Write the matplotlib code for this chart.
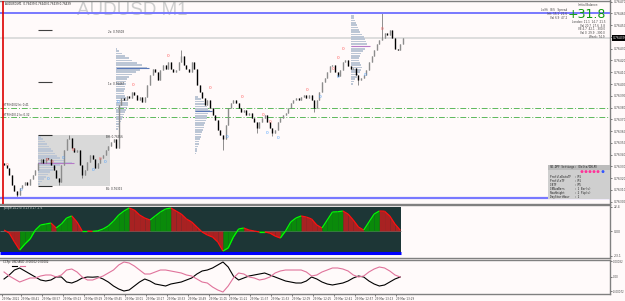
import numpy as np
import matplotlib
matplotlib.use("Agg")
import matplotlib.pyplot as plt
from matplotlib.collections import LineCollection
from matplotlib.patches import Rectangle
import matplotlib.transforms as mtrans

plt.rcParams['font.family'] = ['DejaVu Sans']

# ------------------------------------------------------------------ data
symbol_title = "AUDUSD,M1  0.76439 0.76440 0.76439 0.76439"
watermark = "AUDUSD M1"

bar_start_min = 508          # first bar 08:28 (minutes after midnight)
bar_minutes = 2
first_open = 0.76333
closes = [0.76331, 0.76329, 0.76323, 0.76314, 0.76309, 0.76306, 0.76312, 0.76314, 0.76317, 0.76314,
          0.76319, 0.76323, 0.76327, 0.76333, 0.76336, 0.76333, 0.76337, 0.76336, 0.76331, 0.76327,
          0.76320, 0.76317, 0.76331, 0.76344, 0.76353, 0.76354, 0.76346, 0.76342, 0.76344, 0.76331,
          0.76323, 0.76327, 0.76334, 0.76340, 0.76336, 0.76329, 0.76333, 0.76337, 0.76340, 0.76344,
          0.76347, 0.76351, 0.76353, 0.76346, 0.76382, 0.76388, 0.76386, 0.76390, 0.76388, 0.76393,
          0.76391, 0.76386, 0.76389, 0.76385, 0.76389, 0.76399, 0.76408, 0.76413, 0.76410, 0.76403,
          0.76412, 0.76416, 0.76413, 0.76419, 0.76413, 0.76410, 0.76412, 0.76419, 0.76424, 0.76416,
          0.76413, 0.76410, 0.76419, 0.76413, 0.76399, 0.76393, 0.76388, 0.76382, 0.76386, 0.76380,
          0.76374, 0.76369, 0.76361, 0.76357, 0.76353, 0.76365, 0.76380, 0.76384, 0.76386, 0.76384,
          0.76380, 0.76376, 0.76378, 0.76374, 0.76375, 0.76371, 0.76368, 0.76363, 0.76368, 0.76371,
          0.76374, 0.76368, 0.76363, 0.76358, 0.76361, 0.76368, 0.76371, 0.76374, 0.76375, 0.76380,
          0.76384, 0.76386, 0.76388, 0.76386, 0.76389, 0.76391, 0.76388, 0.76391, 0.76386, 0.76380,
          0.76386, 0.76393, 0.76402, 0.76405, 0.76410, 0.76415, 0.76416, 0.76410, 0.76407, 0.76412,
          0.76419, 0.76420, 0.76415, 0.76413, 0.76414, 0.76408, 0.76403, 0.76405, 0.76408, 0.76412,
          0.76419, 0.76424, 0.76429, 0.76434, 0.76437, 0.76439, 0.76443, 0.76442, 0.76446, 0.76439,
          0.76430, 0.76429, 0.76434, 0.76439]
spike_highs = {25: 0.76357, 68: 0.76429, 145: 0.76460}
spike_lows = {5: 0.76303, 21: 0.76314, 30: 0.76320, 84: 0.76344, 97: 0.76358,
              103: 0.76356, 119: 0.76376, 136: 0.76399}

day_high = 0.76460
day_low = 0.76303
current_price = 0.76439
day_separator_min = 507.2
htf_levels = [0.76380, 0.76372]
htf_labels = ["HTF(H4)02 hi: 0.41", "HTF(H4)0.2 lo: 0.32"]

ib_start, ib_end = 534.0, 589.3
ib_low, ib_high = 0.76313, 0.76357
ib_ext_levels = [0.76446, 0.76402]
ib_ext_end = 544.8

row_step = 0.00002
prof_a_start, prof_a_top = 534.0, 0.76355
prof_a_vol = [3, 5, 7, 9, 11, 13, 15, 17, 19, 22, 26, 34, 22, 18, 15, 12, 10, 8, 6, 4, 2]
prof_b_start, prof_b_top = 593.9, 0.76430
prof_b_vol = [1, 3, 6, 9, 13, 16, 21, 26, 31, 24, 20, 16, 13, 11, 10, 10, 9, 9, 8, 8,
              9, 10, 11, 12, 12, 11, 10, 9, 8, 7, 6, 5, 4, 3, 2]
prof_c_start, prof_c_top = 654.5, 0.76389
prof_c_vol = [3, 6, 9, 11, 12, 13, 15, 13, 12, 12, 11, 10, 9, 9, 8, 7, 6, 6, 5, 4, 4, 3, 2, 2, 1]
prof_d_start, prof_d_top = 774.3, 0.76460
prof_d_vol = [2, 3, 3, 4, 5, 6, 7, 8, 9, 11, 13, 14, 15, 16, 17, 14, 12, 10, 9, 8,
              8, 9, 10, 11, 10, 9, 7, 6, 4, 3, 2]

red_mark_t = [510.3, 541.0, 544.8, 560.9, 581.6, 607.0, 633.8, 666.0, 690.6, 706.7,
              712.1, 740.5, 760.4, 764.3, 768.1, 798.1]
red_mark_p = [0.76331, 0.76335, 0.76334, 0.76344, 0.76336, 0.76399, 0.76424, 0.76397, 0.76389, 0.76374,
              0.76368, 0.76395, 0.76413, 0.76422, 0.76430, 0.76447]
blue_mark_t = [521.0, 541.7, 553.2, 576.3, 585.5, 595.4, 679.1, 709.8, 718.2, 750.5, 764.3, 785.0]
blue_mark_p = [0.76310, 0.76319, 0.76337, 0.76327, 0.76334, 0.76385, 0.76355, 0.76358, 0.76354,
               0.76389, 0.76406, 0.76408]

osc_start, osc_step = 508, 4
osc = [0.9, -1.9, -10.2, -17.7, -12.1, -7.4, 0.9, 5.6, 6.5, 7.4,
       2.8, 6.5, 12.1, 14.0, 8.4, 0.0, 0.0, -0.3, 0.2, 1.9,
       4.7, 9.3, 14.9, 18.6, 21.4, 19.5, 14.9, 12.1, 10.2, 14.0,
       17.7, 20.5, 21.4, 18.6, 15.8, 11.2, 8.4, 3.7, -0.9, -3.7,
       -5.6, -10.2, -18.6, -15.8, -5.6, 1.9, 2.8, 0.9, 0.0, -0.9,
       -0.9, -1.9, -4.7, -6.5, 0.0, 8.4, 12.1, 14.0, 13.0, 11.2,
       5.6, 2.8, 10.2, 17.7, 17.9, 18.6, 15.8, 10.2, 3.7, 0.9,
       8.4, 15.8, 18.6, 18.4, 14.0, 6.5, 0.9]
osc_band = (-19.6, 22.3)
osc_floor = -20.5

# currency strength (units of 1e-5)
ccf_usd = [-10.3, 10.3, 35.9, 46.2, 30.8, 15.4, 0.0, -15.4, -20.5, -15.4,
           0.0, 0.0, -25.7, -30.8, -20.5, -5.1, 0.0, -1.0, 1.0, -10.3,
           -25.7, -46.2, -61.6, -71.8, -66.7, -46.2, -25.7, -10.3, -20.5, -35.9,
           -41.0, -46.2, -35.9, -30.8, -25.7, -15.4, -5.1, 15.4, 30.8, 35.9,
           46.2, 61.6, 77.0, 51.3, 5.1, -15.4, -5.1, 5.1, 10.3, 15.4,
           20.5, 10.3, 0.0, -10.3, -20.5, -25.7, -30.8, -30.8, -20.5, 0.0,
           -10.3, -25.7, -35.9, -41.0, -35.9, -30.8, -20.5, -5.1, 5.1, 0.0,
           -20.5, -35.9, -46.2, -41.0, -25.7, -10.3, 0.0]
ccf_aud = [25.7, 5.1, -10.3, -25.7, -15.4, -5.1, -5.1, 5.1, 10.3, 10.3,
           0.0, 10.3, 35.9, 41.0, 25.7, 0.0, -15.4, -15.4, -5.1, 5.1,
           20.5, 35.9, 61.6, 77.0, 71.8, 56.4, 35.9, 15.4, 15.4, 25.7,
           35.9, 35.9, 30.8, 25.7, 20.5, 10.3, 5.1, -10.3, -25.7, -30.8,
           -51.3, -66.7, -77.0, -46.2, -5.1, 20.5, 15.4, 0.0, -5.1, -15.4,
           -10.3, 0.0, 20.5, 30.8, 35.9, 35.9, 35.9, 35.9, 25.7, 5.1,
           10.3, 25.7, 35.9, 46.2, 46.2, 41.0, 30.8, 10.3, 0.0, 5.1,
           25.7, 41.0, 51.3, 46.2, 30.8, 10.3, 0.0]

price_ticks = [0.76300, 0.76310, 0.76320, 0.76330, 0.76340, 0.76350, 0.76360, 0.76370, 0.76380,
               0.76390, 0.76400, 0.76410, 0.76420, 0.76430, 0.76440, 0.76450, 0.76460, 0.76470]
osc_ticks = [22.4, 0.0, -23.1]
osc_tick_labels = ["22.4", "0.00", "-23.1"]
ccf_ticks = [82, 0, -72]
ccf_tick_labels = ["0.00082", "0.00", "-0.00072"]
time_labels = ["08:41", "08:57", "09:13", "09:29", "09:45", "10:01", "10:17", "10:33", "10:49", "11:05",
               "11:21", "11:37", "11:53", "12:09", "12:25", "12:41", "12:57", "13:13", "13:29"]
date_label = "29 Mar 2021"
date_label_min = 506.4

info_lines = ["Initial Balance:", "Lo/Hi   B/S   Spread", "Init: 15.1  21.6", "Val 6.9  47.2",
              "London: 11.1  14.7  21.5", "Val 20.7  27.6  3.8", "VE 4.7  42.1  -300.0",
              "Val 0  29.9  -300.0", "Week: 74.9"]
info_y_px = [5, 9.5, 14, 18, 22, 25.5, 29, 32.5, 37]
info_x_px = [598, 567, 567, 567, 605, 605, 605, 605, 605]
info_big = "+31.8"
settings_title = "SD-DPF Settings: (Delta/DHLM)"
settings_lines = ["ProfileDataTF  : M1", "ProfileTF      : M1", "IBTF           : M5",
                  "IBNumBars      : 1 Bar(s)", "RowHeight      : 2 Pip(s)", "DayStartHour   : 1"]
osc_title = "JSlope(14,2,0) 0.13 0.17 -1.6"
ccf_title = "CCFp: USD AUD -0.00002 0.00002"

# ------------------------------------------------------------------ figure
BG = '#fffafa'
W, H = 625.0, 301.0
fig = plt.figure(figsize=(6.25, 3.01), dpi=100, facecolor=BG)


def rect(x0, y0, x1, y1):
    return [x0 / W, 1 - y1 / H, (x1 - x0) / W, (y1 - y0) / H]


ax = fig.add_axes(rect(0, 0.5, 610, 204), facecolor=BG)
ax1 = fig.add_axes(rect(0, 205, 610, 258), facecolor=BG, sharex=ax)
ax2 = fig.add_axes(rect(0, 260, 610, 294), facecolor=BG, sharex=ax)
XMIN, XMAX = 504.9, 973.0
ax.set_xlim(XMIN, XMAX)
ax.set_ylim(0.76298, 0.76471)
ax1.set_ylim(-25.1, 24.2)
ax2.set_ylim(-87.2, 87.2)

for a in (ax, ax1, ax2):
    for s in a.spines.values():
        s.set_color('#808080')
        s.set_linewidth(1.0)
    a.spines['left'].set_visible(False)
    a.yaxis.tick_right()
    a.tick_params(axis='y', labelsize=2.2, length=1.5, width=0.5, pad=1.0,
                  colors='#444444')
ax2.tick_params(axis='y', labelsize=1.9, pad=0.6)
ax.tick_params(axis='x', bottom=False, labelbottom=False)
ax1.tick_params(axis='x', bottom=False, labelbottom=False)

# ---------------- main price panel
ax.set_yticks(price_ticks)
ax.set_yticklabels([f"{p:.5f}" for p in price_ticks])

n = len(closes)
times = bar_start_min + bar_minutes * np.arange(n)
c = np.array(closes)
o = np.array([first_open] + closes[:-1])
hi = np.maximum(o, c)
lo = np.minimum(o, c)
for k, v in spike_highs.items():
    hi[k] = v
for k, v in spike_lows.items():
    lo[k] = v

# watermark & title
ax.text(132.5 / 610, 1 - 10.5 / 204, watermark, transform=ax.transAxes, ha='center', va='center',
        fontsize=13.5, color='#cdcdcd', family='Liberation Sans', zorder=0.2)
ax.text(5 / 610, 1 - 3.5 / 204, symbol_title, transform=ax.transAxes, ha='left', va='center',
        fontsize=2.0, color='#202020')

# horizontal levels
ax.axhline(current_price, color='#dadada', lw=1.3, zorder=0.5)
ax.axhline(day_high, color='#7878ff', lw=1.4, zorder=3)
ax.axhline(day_low, color='#7878ff', lw=1.6, zorder=3)
for lvl, lab in zip(htf_levels, htf_labels):
    ax.axhline(lvl, color='#5cb85c', lw=0.7, ls=(0, (6, 2, 1, 2)), zorder=0.6)
    ax.text(XMIN + 2.0, lvl + 0.0000035, lab, fontsize=2.0, color='#333333', va='bottom', ha='left')
ax.axvline(day_separator_min, color='#dd0000', lw=1.2, zorder=3)

# initial balance box
ax.add_patch(Rectangle((ib_start, ib_low), ib_end - ib_start, ib_high - ib_low,
                       facecolor='#d9d9d9', edgecolor='none', zorder=0.8))
ax.hlines([ib_high, ib_low], ib_start, ib_ext_end, color='#303030', lw=0.8, zorder=1)
ax.hlines(ib_ext_levels, ib_start, ib_ext_end, color='#404040', lw=0.8, zorder=1)
ax.text(108 / 610, 1 - 33 / 204, "2x: 0.76508", transform=ax.transAxes, fontsize=2.0, color='#333333')
ax.text(108 / 610, 1 - 85 / 204, "1x: 0.76467", transform=ax.transAxes, fontsize=2.0, color='#333333')
ax.text(106 / 610, 1 - 138 / 204, "BH: 0.76356", transform=ax.transAxes, fontsize=2.0, color='#333333')
ax.text(106 / 610, 1 - 190 / 204, "BL: 0.76315", transform=ax.transAxes, fontsize=2.0, color='#333333')

# volume profiles
vol_scale = 0.767
PROF = '#bcc6d5'
for start, top, vol, poc_col in [(prof_a_start, prof_a_top, prof_a_vol, '#b77ac8'),
                                  (prof_b_start, prof_b_top, prof_b_vol, '#5a78b8'),
                                  (prof_c_start, prof_c_top, prof_c_vol, '#5a78b8'),
                                  (prof_d_start, prof_d_top, prof_d_vol, '#b77ac8')]:
    v = np.array(vol, dtype=float)
    levels = top - row_step * np.arange(len(v))
    ax.barh(levels, v * vol_scale, left=start, height=row_step * 0.7, color=PROF, lw=0, zorder=1.2)
    k = int(np.argmax(v))
    ax.hlines(levels[k], start, start + v[k] * vol_scale + 1.5, color=poc_col, lw=0.8, zorder=1.3)

# candles
ax.vlines(times, lo, hi, color='#3c3c3c', lw=0.4, zorder=2)
up = c >= o
ax.vlines(times[up], o[up], c[up], color='#8c8c8c', lw=1.0, zorder=2.1)
ax.vlines(times[~up], o[~up], c[~up], color='#000000', lw=1.0, zorder=2.2)

# swing markers
for t, p in zip(red_mark_t, red_mark_p):
    ax.text(t, p, "0", color='#ff5a5a', fontsize=3.2, ha='center', va='center', zorder=4)
for t, p in zip(blue_mark_t, blue_mark_p):
    ax.text(t, p, "0", color='#4aa0ff', fontsize=3.2, ha='center', va='center', zorder=4)

# current price label
btr = mtrans.blended_transform_factory(ax.transAxes, ax.transData)
ax.text(1.004, current_price, f"{current_price:.5f}", transform=btr, fontsize=2.2, color='white',
        ha='left', va='center', zorder=6, clip_on=False,
        bbox=dict(boxstyle='square,pad=0.25', fc='black', ec='none'))

# info block
for line, y_px, x_px in zip(info_lines, info_y_px, info_x_px):
    ax.text(x_px / 610, 1 - y_px / 204, line, transform=ax.transAxes, ha='right', va='center',
            fontsize=2.0, color='#404040', zorder=5)
ax.text(587 / 610, 1 - 14 / 204, info_big, transform=ax.transAxes, ha='center', va='center',
        fontsize=9, color='#0f9a0f', zorder=5.5)

# settings box
ax.add_patch(Rectangle((548 / 610, 1 - 199 / 204), 62 / 610, 34 / 204, transform=ax.transAxes,
                       facecolor='#cfcfcf', edgecolor='none', zorder=5))
ax.add_patch(Rectangle((548 / 610, 1 - 169.5 / 204), 62 / 610, 4.5 / 204, transform=ax.transAxes,
                       facecolor='#bcbcbc', edgecolor='none', zorder=5.1))
ax.text(550 / 610, 1 - 167.2 / 204, settings_title, transform=ax.transAxes, fontsize=2.0,
        family='DejaVu Sans Mono', color='#222222', va='center', zorder=6)
dot_x = np.array([582, 586, 590, 594, 598, 603]) / 610
dot_c = ['#ff3399'] * 5 + ['#3355ff']
ax.scatter(dot_x, [1 - 171.5 / 204] * 6, s=4.5, c=dot_c, transform=ax.transAxes, zorder=6,
           linewidths=0, clip_on=False)
for i, line in enumerate(settings_lines):
    ax.text(550 / 610, 1 - (176.5 + 4 * i) / 204, line, transform=ax.transAxes, fontsize=2.0,
            family='DejaVu Sans Mono', color='#222222', va='center', zorder=6)

# ---------------- oscillator panel
ot = osc_start + osc_step * np.arange(len(osc))
ov = np.array(osc)
ax1.fill_between([XMIN, ot[-1] + 1], osc_band[0], osc_band[1], color='#1d3636', lw=0, zorder=0.5)
ax1.hlines(osc_floor, XMIN, ot[-1] + 1, color='#0000ff', lw=2.2, zorder=3)
ax1.hlines(0, XMIN, ot[-1] + 1, color='#7a8a8a', lw=0.5, zorder=0.8)
seg_cols = []
segs = []
for k in range(len(ov) - 1):
    rising = ov[k + 1] >= ov[k]
    fc = '#0a8a0a' if rising else '#a82222'
    ax1.fill_between(ot[k:k + 2], 0, ov[k:k + 2], color=fc, lw=0, zorder=1)
    segs.append([(ot[k], ov[k]), (ot[k + 1], ov[k + 1])])
    seg_cols.append('#00ff00' if rising else '#ff1010')
ax1.add_collection(LineCollection(segs, colors=seg_cols, linewidths=0.9, zorder=2))
ax1.set_yticks(osc_ticks)
ax1.set_yticklabels(osc_tick_labels)
ax1.text(3 / 610, 1 - 3.5 / 53, osc_title, transform=ax1.transAxes, fontsize=2.0, color='#d8d8d8',
         va='center', zorder=4)

# ---------------- currency strength panel
ax2.plot(ot, ccf_usd, color='#000000', lw=0.8)
ax2.plot(ot, ccf_aud, color='#e0739b', lw=0.8)
ax2.set_yticks(ccf_ticks)
ax2.set_yticklabels(ccf_tick_labels)
ax2.text(3 / 610, 1 - 2.5 / 34, ccf_title, transform=ax2.transAxes, fontsize=2.0, color='#222222',
         va='center')
ax2.plot([12 / 610, 17 / 610], [1 - 6 / 34] * 2, transform=ax2.transAxes, color='black', lw=0.8)
ax2.plot([20 / 610, 25 / 610], [1 - 6 / 34] * 2, transform=ax2.transAxes, color='#e0739b', lw=0.8)


def to_min(s):
    h, m = s.split(":")
    return int(h) * 60 + int(m)


tpos = [date_label_min] + [to_min(s) for s in time_labels]
tlab = [date_label] + ["29 Mar " + s for s in time_labels]
ax2.set_xticks(tpos)
ax2.set_xticklabels(tlab)
ax2.tick_params(axis='x', labelsize=2.0, length=1.5, width=0.5, pad=0.8, colors='#444444')
for lab in ax2.get_xticklabels():
    lab.set_ha('left')
ax.set_xlim(XMIN, XMAX)

fig.savefig("out.png", dpi=100, facecolor=BG)
